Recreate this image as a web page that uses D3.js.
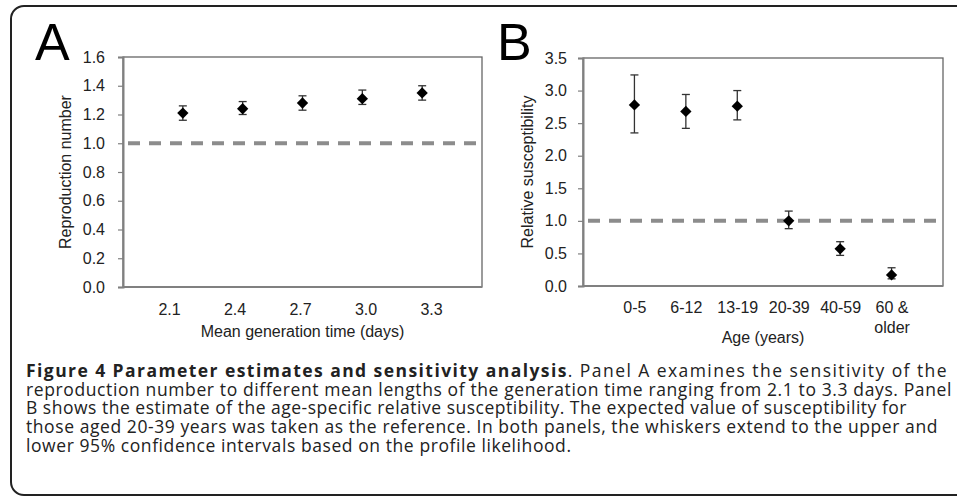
<!DOCTYPE html>
<html>
<head>
<meta charset="utf-8">
<script src="https://cdn.jsdelivr.net/npm/d3@7.9.0/dist/d3.min.js"></script>
<style>
  body { margin: 0; background: #fff; }
  svg { display: block; }
</style>
</head>
<body>
<div id="chart"></div>
<script>
// panel A: reproduction number vs mean generation time
const genTimes = ["2.1", "2.4", "2.7", "3.0", "3.3"];
const rEst  = [1.21, 1.24, 1.28, 1.31, 1.35];
const rLow  = [1.16, 1.20, 1.23, 1.27, 1.30];
const rHigh = [1.26, 1.29, 1.33, 1.37, 1.40];
const rTicks = [0, 0.2, 0.4, 0.6, 0.8, 1.0, 1.2, 1.4, 1.6];

// panel B: relative susceptibility by age group
const ageGroups = ["0-5", "6-12", "13-19", "20-39", "40-59", "60 & older"];
const suscEst  = [2.78, 2.68, 2.76, 1.00, 0.57, 0.17];
const suscLow  = [2.35, 2.42, 2.55, 0.88, 0.47, 0.11];
const suscHigh = [3.24, 2.94, 3.00, 1.15, 0.68, 0.28];
const suscTicks = [0, 0.5, 1.0, 1.5, 2.0, 2.5, 3.0, 3.5];

const refValue = 1.0;

const captionLines = [
  [{ bold: true, t: "Figure 4 Parameter estimates and sensitivity analysis" }, { t: ". Panel A examines the sensitivity of the" }],
  [{ t: "reproduction number to different mean lengths of the generation time ranging from 2.1 to 3.3 days. Panel" }],
  [{ t: "B shows the estimate of the age-specific relative susceptibility. The expected value of susceptibility for" }],
  [{ t: "those aged 20-39 years was taken as the reference. In both panels, the whiskers extend to the upper and" }],
  [{ t: "lower 95% confidence intervals based on the profile likelihood." }]
];

const W = 957, H = 497;
const axisFont = "'Liberation Sans', Arial, sans-serif";

let svg = d3.select("#chart")
    .append("svg")
    .attr("width", W)
    .attr("height", H);

// outer figure frame (right side runs off the page)
svg.append("rect")
    .attr("x", 11).attr("y", 6)
    .attr("width", W + 20).attr("height", 489)
    .attr("rx", 13)
    .attr("fill", "none")
    .attr("stroke", "#222")
    .attr("stroke-width", 2);

function drawPanel(opt) {
    let g = svg.append("g");
    let x0 = opt.x.range()[0], x1 = opt.x.range()[1];
    let yb = opt.y.range()[0], yt = opt.y.range()[1];

    // plot box
    g.append("rect")
        .attr("x", x0).attr("y", yt)
        .attr("width", x1 - x0).attr("height", yb - yt)
        .attr("fill", "none")
        .attr("stroke", "#666")
        .attr("stroke-width", 1.3);

    // y axis
    let yAxis = g.append("g")
        .attr("transform", `translate(${x0},0)`)
        .call(d3.axisLeft(opt.y).tickValues(opt.ticks).tickSize(5).tickPadding(opt.pad)
            .tickFormat(d3.format(".1f")));
    yAxis.select(".domain").attr("stroke", "#808080").attr("stroke-width", 2);
    yAxis.selectAll(".tick line").attr("stroke", "#808080").attr("stroke-width", 1.2);
    yAxis.selectAll("text")
        .attr("font-family", axisFont).attr("font-size", 16).attr("fill", "#222");

    // x axis line
    g.append("line")
        .attr("x1", x0).attr("x2", x1)
        .attr("y1", yb).attr("y2", yb)
        .attr("stroke", "#808080").attr("stroke-width", 2);

    // x tick labels (no tick marks)
    let xAxis = g.append("g")
        .attr("transform", `translate(0,${yb})`)
        .call(d3.axisBottom(opt.xLabel).tickSize(0).tickPadding(opt.xPad));
    xAxis.select(".domain").remove();
    xAxis.selectAll("text")
        .attr("font-family", axisFont).attr("font-size", 16).attr("fill", "#222")
        .each(function(d) {
            let parts = d.split(/(?<=&) /);
            if (parts.length > 1) {
                let t = d3.select(this).text(null);
                parts.forEach((p, i) => {
                    t.append("tspan").attr("x", 0).attr("dy", i == 0 ? "0.71em" : "1.25em").text(p);
                });
            }
        });

    // axis titles
    g.append("text")
        .attr("x", (x0 + x1) / 2).attr("y", opt.xTitleY)
        .attr("text-anchor", "middle")
        .attr("font-family", axisFont).attr("font-size", 16).attr("fill", "#222")
        .text(opt.xTitle);
    g.append("text")
        .attr("transform", `translate(${opt.yTitleX},${(yb + yt) / 2}) rotate(-90)`)
        .attr("text-anchor", "middle")
        .attr("font-family", axisFont).attr("font-size", 16).attr("fill", "#222")
        .text(opt.yTitle);

    // panel letter
    g.append("text")
        .attr("x", opt.letterX).attr("y", 60)
        .attr("font-family", axisFont).attr("font-size", 52).attr("fill", "#000")
        .text(opt.letter);

    // reference line at 1.0
    g.append("line")
        .attr("x1", x0 + 5).attr("x2", x1 - 5)
        .attr("y1", opt.y(refValue)).attr("y2", opt.y(refValue))
        .attr("stroke", "#8c8c8c")
        .attr("stroke-width", 4)
        .attr("stroke-dasharray", "12,9");

    let data = opt.cats.map((c, i) => ({ c: c, v: opt.est[i], lo: opt.low[i], hi: opt.high[i] }));

    // whiskers
    let wg = g.selectAll(".whisker").data(data).join("g").attr("class", "whisker")
        .attr("stroke", "#333").attr("stroke-width", 1.3);
    wg.append("line")
        .attr("x1", d => opt.x(d.c)).attr("x2", d => opt.x(d.c))
        .attr("y1", d => opt.y(d.hi)).attr("y2", d => opt.y(d.lo));
    wg.append("line")
        .attr("x1", d => opt.x(d.c) - 4).attr("x2", d => opt.x(d.c) + 4)
        .attr("y1", d => opt.y(d.hi)).attr("y2", d => opt.y(d.hi));
    wg.append("line")
        .attr("x1", d => opt.x(d.c) - 4).attr("x2", d => opt.x(d.c) + 4)
        .attr("y1", d => opt.y(d.lo)).attr("y2", d => opt.y(d.lo));

    // diamond markers
    g.selectAll(".pt").data(data).join("path").attr("class", "pt")
        .attr("d", d3.symbol().type(d3.symbolSquare).size(64))
        .attr("transform", d => `translate(${opt.x(d.c)},${opt.y(d.v)}) rotate(45)`)
        .attr("fill", "#000");
}

drawPanel({
    letter: "A", letterX: 35,
    cats: genTimes, est: rEst, low: rLow, high: rHigh, ticks: rTicks,
    x: d3.scalePoint().domain(genTimes).range([123, 482]).padding(1),
    xLabel: d3.scalePoint().domain(genTimes).range([169, 431]),
    y: d3.scaleLinear().domain([0, 1.6]).range([287, 57]),
    pad: 13, xPad: 17,
    xTitle: "Mean generation time (days)", xTitleY: 337,
    yTitle: "Reproduction number", yTitleX: 71
});

drawPanel({
    letter: "B", letterX: 497,
    cats: ageGroups, est: suscEst, low: suscLow, high: suscHigh, ticks: suscTicks,
    x: d3.scalePoint().domain(ageGroups).range([583, 943]).padding(1),
    xLabel: d3.scalePoint().domain(ageGroups).range([583, 943]).padding(1),
    y: d3.scaleLinear().domain([0, 3.5]).range([286, 58]),
    pad: 11, xPad: 16,
    xTitle: "Age (years)", xTitleY: 343,
    yTitle: "Relative susceptibility", yTitleX: 533
});

// caption: widen with letter spacing, first two lines justified
const capX = 26;
const capBase = [377, 396, 414, 433, 452];
const capRight = [948, 952, 907, 938, null];
let lastLs = 0;
captionLines.forEach((line, i) => {
    let t = svg.append("text")
        .attr("x", capX).attr("y", capBase[i])
        .attr("font-family", "'Open Sans', sans-serif")
        .attr("font-size", 17.5)
        .attr("fill", "#222");
    line.forEach(s => {
        t.append("tspan").attr("font-weight", s.bold ? 700 : 400).text(s.t);
    });
    let natural = t.node().getComputedTextLength();
    let chars = line.map(s => s.t).join("").length;
    let ls = capRight[i] ? (capRight[i] - capX - natural) / chars : lastLs;
    if (i >= 2) lastLs = ls;
    t.style("letter-spacing", ls + "px");
});
</script>
</body>
</html>
